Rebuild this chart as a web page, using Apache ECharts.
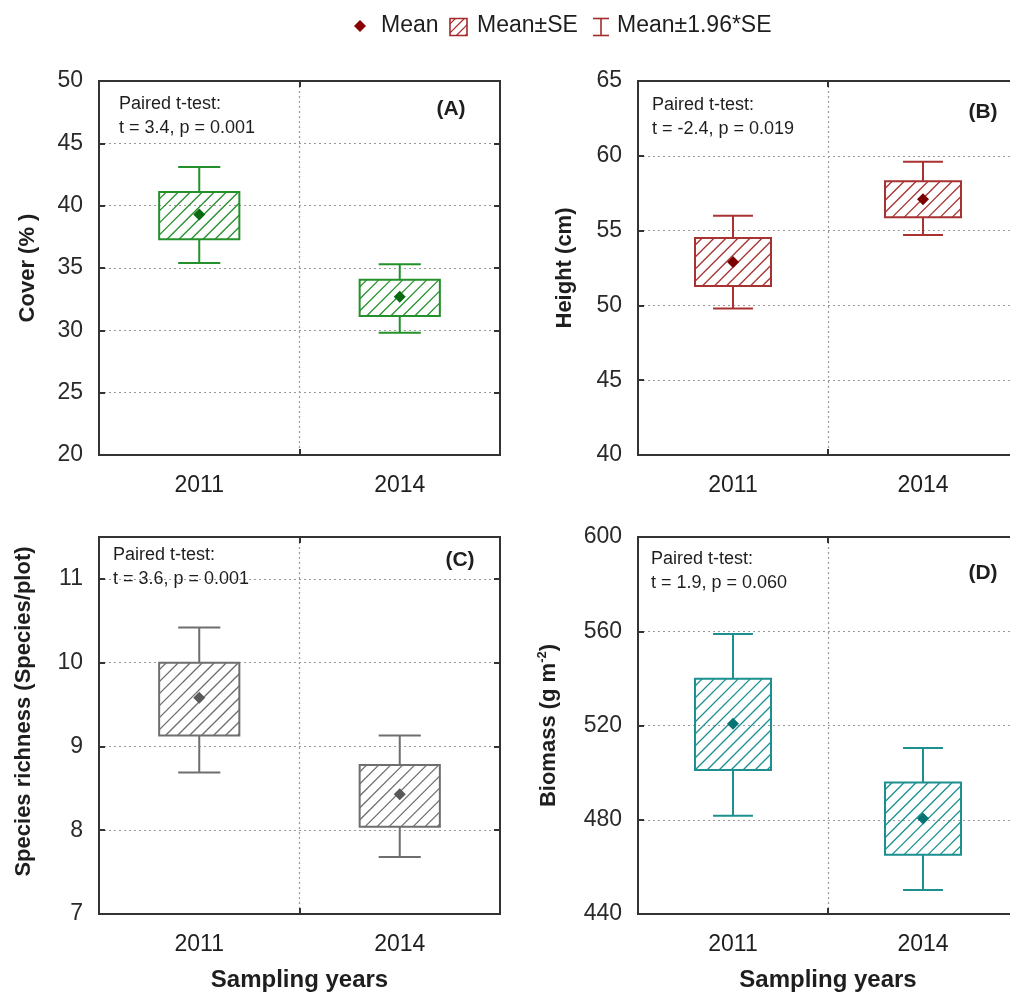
<!DOCTYPE html>
<html>
<head>
<meta charset="utf-8">
<script src="https://cdn.jsdelivr.net/npm/echarts@6/dist/echarts.min.js"></script>
<style>
  html, body { margin: 0; padding: 0; background: #fff; }
  #chart { width: 1010px; height: 1002px; }
</style>
</head>
<body>
<div id="chart"></div>
<script>
// Sampling years on the category axis
const years = ['2011', '2014'];

// Per year: [mean-1.96*SE, mean-SE, mean, mean+SE, mean+1.96*SE]
const coverStats    = [[35.4, 37.3, 39.3, 41.1, 43.1], [29.8, 31.15, 32.7, 34.05, 35.3]];
const heightStats   = [[49.8, 51.3, 52.9, 54.5, 56.0], [54.7, 55.9, 57.1, 58.3, 59.6]];
const richnessStats = [[8.69, 9.13, 9.58, 10.0, 10.42], [7.68, 8.04, 8.43, 8.78, 9.13]];
const biomassStats  = [[481.7, 501.1, 520.7, 539.8, 558.8], [450.2, 465.1, 480.5, 495.8, 510.4]];

// Value axis ranges: [min, max, interval]
const coverRange    = [20, 50, 5];
const heightRange   = [40, 65, 5];
const richnessRange = [7, 11.5, 1];
const biomassRange  = [440, 600, 40];

// Paired t-test results and panel tags
const testResults = ['t = 3.4, p = 0.001', 't = -2.4, p = 0.019', 't = 3.6, p = 0.001', 't = 1.9, p = 0.060'];
const panelTags   = ['(A)', '(B)', '(C)', '(D)'];
const axisNames   = ['Cover (% )', 'Height (cm)', 'Species richness (Species/plot)', 'Biomass (g m{sup|-2})'];

const FONT = "'Liberation Sans', Arial, Helvetica, sans-serif";
const TEXT = '#1e1e1e';
const FRAME = '#333';

const panels = [
  { stats: coverStats,    range: coverRange,    line: '#23902a', mean: '#0b6b10',
    grid: { left: 99,  top: 81,  width: 401, height: 374 }, nameGap: 60, bottom: false },
  { stats: heightStats,   range: heightRange,   line: '#a83232', mean: '#7d0000',
    grid: { left: 638, top: 81,  width: 380, height: 374 }, nameGap: 62, bottom: false },
  { stats: richnessStats, range: richnessRange, line: '#6e6e6e', mean: '#595959',
    grid: { left: 99,  top: 537, width: 401, height: 377 }, nameGap: 64, bottom: true, namePad: 28 },
  { stats: biomassStats,  range: biomassRange,  line: '#1c9090', mean: '#067474',
    grid: { left: 638, top: 537, width: 380, height: 377 }, nameGap: 76, bottom: true }
];

// Diagonal "/" hatching clipped to a rectangle
function hatch(x0, y0, x1, y1, step, color, width) {
  const out = [];
  for (let c = x0 + y0 + step * 0.6; c < x1 + y1; c += step) {
    const xa = Math.max(x0, c - y1);
    const xb = Math.min(x1, c - y0);
    if (xb - xa > 0.5) {
      out.push({ type: 'line', shape: { x1: xa, y1: c - xa, x2: xb, y2: c - xb },
                 style: { stroke: color, lineWidth: width } });
    }
  }
  return out;
}

function makeRenderer(lineColor, meanColor) {
  return function (params, api) {
    const xi = api.value(0);
    const bw = api.size([1, 0])[0];
    const cx = api.coord([xi, api.value(3)])[0];
    const yCiLo = api.coord([xi, api.value(1)])[1];
    const ySeLo = api.coord([xi, api.value(2)])[1];
    const yMean = api.coord([xi, api.value(3)])[1];
    const ySeHi = api.coord([xi, api.value(4)])[1];
    const yCiHi = api.coord([xi, api.value(5)])[1];
    const half = bw * 0.2;
    const cap = bw * 0.105;
    const stroke = { stroke: lineColor, lineWidth: 2, fill: null };
    const children = [];
    hatch(cx - half, ySeHi, cx + half, ySeLo, 12, lineColor, 1.3).forEach(l => children.push(l));
    children.push({ type: 'rect', shape: { x: cx - half, y: ySeHi, width: half * 2, height: ySeLo - ySeHi }, style: stroke });
    children.push({ type: 'line', shape: { x1: cx, y1: ySeHi, x2: cx, y2: yCiHi }, style: stroke });
    children.push({ type: 'line', shape: { x1: cx, y1: ySeLo, x2: cx, y2: yCiLo }, style: stroke });
    children.push({ type: 'line', shape: { x1: cx - cap, y1: yCiHi, x2: cx + cap, y2: yCiHi }, style: stroke });
    children.push({ type: 'line', shape: { x1: cx - cap, y1: yCiLo, x2: cx + cap, y2: yCiLo }, style: stroke });
    const d = 6;
    children.push({ type: 'polygon', shape: { points: [[cx, yMean - d], [cx + d, yMean], [cx, yMean + d], [cx - d, yMean]] },
                    style: { fill: meanColor } });
    return { type: 'group', children };
  };
}

const grids = [], xAxes = [], yAxes = [], series = [], graphics = [];
const frameLine = { show: true, lineStyle: { color: FRAME, width: 2 } };
const tickStyle = { show: true, inside: true, length: 6, lineStyle: { color: FRAME, width: 2 } };
const dotted = { type: [2, 3], color: '#9a9a9a', width: 1.2 };

panels.forEach((p, i) => {
  grids.push(Object.assign({ show: true, borderColor: FRAME, borderWidth: 2, backgroundColor: 'transparent',
                             outerBoundsMode: 'none', containLabel: false }, p.grid));

  // bottom category axis
  xAxes.push({
    type: 'category', data: years, gridIndex: i, position: 'bottom',
    axisLine: frameLine,
    axisTick: tickStyle,
    axisLabel: { fontFamily: FONT, fontSize: 23, color: TEXT, margin: 19 },
    splitLine: { show: true, showMinLine: false, showMaxLine: false, lineStyle: dotted },
    name: p.bottom ? 'Sampling years' : '',
    nameLocation: 'middle', nameGap: 54,
    nameTextStyle: { fontFamily: FONT, fontSize: 24, fontWeight: 'bold', color: TEXT }
  });
  // top category axis (frame and tick marks only)
  xAxes.push({
    type: 'category', data: years, gridIndex: i, position: 'top',
    axisLine: frameLine,
    axisTick: tickStyle,
    axisLabel: { show: false }, splitLine: { show: false }
  });

  const nameStyle = { fontFamily: FONT, fontSize: 22, fontWeight: 'bold', color: TEXT };
  if (p.namePad) nameStyle.padding = [0, 0, 0, p.namePad];
  if (i === 3) {
    nameStyle.lineHeight = 26;
    nameStyle.rich = { sup: { fontFamily: FONT, fontSize: 13, fontWeight: 'bold', color: TEXT, verticalAlign: 'top', lineHeight: 26 } };
  }
  yAxes.push({
    type: 'value', gridIndex: i, position: 'left',
    min: p.range[0], max: p.range[1], interval: p.range[2],
    axisLine: frameLine,
    axisTick: tickStyle,
    axisLabel: { fontFamily: FONT, fontSize: 23, color: '#2a2a2a', margin: 16, showMaxLabel: p.range[1] % p.range[2] === 0 },
    splitLine: { show: true, showMinLine: false, showMaxLine: false, lineStyle: dotted },
    name: axisNames[i], nameLocation: 'middle', nameGap: p.nameGap, nameRotate: 90,
    nameTextStyle: nameStyle
  });
  yAxes.push({
    type: 'value', gridIndex: i, position: 'right',
    min: p.range[0], max: p.range[1], interval: p.range[2],
    axisLine: frameLine,
    axisTick: tickStyle,
    axisLabel: { show: false }, splitLine: { show: false }
  });

  series.push({
    type: 'custom', name: panelTags[i],
    xAxisIndex: 2 * i, yAxisIndex: 2 * i,
    renderItem: makeRenderer(p.line, p.mean),
    encode: { x: 0, y: [1, 2, 3, 4, 5] },
    data: p.stats.map((s, k) => [k].concat(s)),
    z: 5
  });
});

// Test annotations and panel tags
const notePos = [[119, 104, 451, 109], [652, 105, 983, 112], [113, 555, 460, 560], [651, 559, 983, 573]];
notePos.forEach((n, i) => {
  graphics.push({ type: 'text', x: n[0], y: n[1], z: 10,
    style: { text: 'Paired t-test:', font: '18px ' + FONT, fill: TEXT, textVerticalAlign: 'middle' } });
  graphics.push({ type: 'text', x: n[0], y: n[1] + 24.5, z: 10,
    style: { text: testResults[i], font: '18px ' + FONT, fill: TEXT, textVerticalAlign: 'middle' } });
  graphics.push({ type: 'text', x: n[2], y: n[3], z: 10,
    style: { text: panelTags[i], font: 'bold 21px ' + FONT, fill: TEXT, textAlign: 'center', textVerticalAlign: 'middle' } });
});

// Legend row
const legendRed = '#a52a2a';
const legendChildren = [
  { type: 'polygon', shape: { points: [[360, 20], [366, 26], [360, 32], [354, 26]] }, style: { fill: '#8b0000' } },
  { type: 'text', x: 381, y: 26, style: { text: 'Mean', font: '23px ' + FONT, fill: TEXT, textVerticalAlign: 'middle' } },
  { type: 'rect', shape: { x: 450, y: 18.5, width: 17, height: 17 }, style: { stroke: legendRed, lineWidth: 1.6, fill: null } }
];
hatch(450, 18.5, 467, 35.5, 9, legendRed, 1.2).forEach(l => legendChildren.push(l));
legendChildren.push(
  { type: 'text', x: 477, y: 26, style: { text: 'Mean±SE', font: '23px ' + FONT, fill: TEXT, textVerticalAlign: 'middle' } },
  { type: 'line', shape: { x1: 601, y1: 18.5, x2: 601, y2: 35.5 }, style: { stroke: legendRed, lineWidth: 1.6 } },
  { type: 'line', shape: { x1: 593, y1: 18.5, x2: 609, y2: 18.5 }, style: { stroke: legendRed, lineWidth: 1.6 } },
  { type: 'line', shape: { x1: 593, y1: 35.5, x2: 609, y2: 35.5 }, style: { stroke: legendRed, lineWidth: 1.6 } },
  { type: 'text', x: 617, y: 26, style: { text: 'Mean±1.96*SE', font: '23px ' + FONT, fill: TEXT, textVerticalAlign: 'middle' } }
);
graphics.push({ type: 'group', children: legendChildren });

const chart = echarts.init(document.getElementById('chart'), null, { renderer: 'canvas' });
chart.setOption({
  animation: false,
  backgroundColor: '#ffffff',
  textStyle: { fontFamily: FONT },
  grid: grids,
  xAxis: xAxes,
  yAxis: yAxes,
  series: series,
  graphic: graphics
});
</script>
</body>
</html>
